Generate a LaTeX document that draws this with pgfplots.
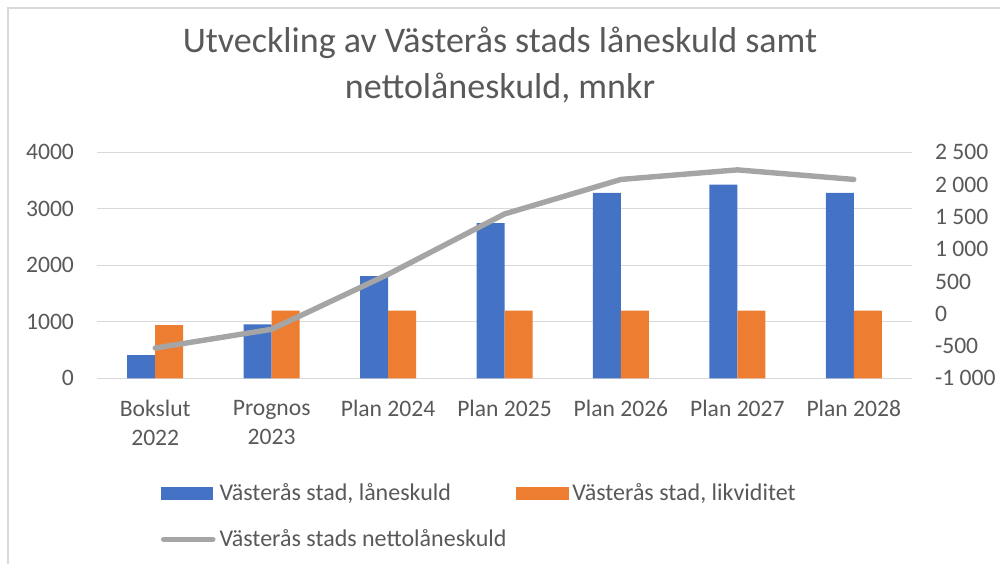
\documentclass[border=0pt]{standalone}
\usepackage{fontspec}
\setmainfont{Carlito}
\usepackage{pgfplots}
\pgfplotsset{compat=1.18}

\definecolor{blueC}{HTML}{4472C4}
\definecolor{orangeC}{HTML}{ED7D31}
\definecolor{grayC}{HTML}{A5A5A5}
\definecolor{txt}{HTML}{595959}
\definecolor{gridC}{HTML}{D9D9D9}

\pgfplotsset{
  barlegend/.style={legend image code/.code={\fill[##1, draw=none] (0pt,-3.3pt) rectangle (26pt,3.3pt);}},
  linelegend/.style={legend image code/.code={\draw[##1] (1.2pt,0pt) -- (25.8pt,0pt);}},
  base/.style={
    scale only axis, width=407.5pt, height=113pt,
    at={(48.5pt,92.85pt)}, anchor=south west,
    xmin=-0.5, xmax=6.5,
    axis line style={draw=none},
    major tick length=0pt,
    tick label style={font=\fontsize{11.8}{14.5}\selectfont, text=txt},
  },
}

\begin{document}
\begin{tikzpicture}
\useasboundingbox (0,0) rectangle (500pt,282pt);
\draw[gridC, line width=0.6pt] (4pt,0) -- (4pt,278pt) -- (500pt,278pt);

\node[anchor=base, text=txt, font=\fontsize{18}{20}\selectfont] at (250pt,256pt) {Utveckling av Västerås stads låneskuld samt};
\node[anchor=base, text=txt, font=\fontsize{18}{20}\selectfont] at (250pt,233pt) {nettolåneskuld, mnkr};

% bars, left axis
\begin{axis}[base,
  ymin=0, ymax=4000,
  ytick={0,1000,2000,3000,4000},
  yticklabels={0,1000,2000,3000,4000},
  yticklabel style={xshift=-8pt},
  ymajorgrids, grid style={gridC, line width=0.6pt},
  xtick={0,1,2,3,4,5,6},
  xticklabels={{Bokslut\\2022},{Prognos\\2023},Plan 2024,Plan 2025,Plan 2026,Plan 2027,Plan 2028},
  xticklabel style={align=center, yshift=-7.5pt},
  ybar=0pt, bar width=14pt,
]
\addplot[fill=blueC, draw=none] coordinates {
  (0,412) (1,956) (2,1810) (3,2745) (4,3280) (5,3428) (6,3280)};
\addplot[fill=orangeC, draw=none] coordinates {
  (0,943) (1,1197) (2,1200) (3,1200) (4,1200) (5,1200) (6,1200)};
\end{axis}

% net debt line, right axis
\begin{axis}[base,
  axis x line=none, axis y line*=right,
  ymin=-1000, ymax=2500,
  ytick={-1000,-500,0,500,1000,1500,2000,2500},
  yticklabels={-1 000,-500,0,500,1 000,1 500,2 000,2 500},
  yticklabel style={anchor=west, xshift=8pt},
  legend columns=2,
  legend cell align=left,
  legend style={at={(0.078,-0.445)}, anchor=north west, draw=none, fill=none,
    font=\fontsize{12}{13}\selectfont, text=txt,
    row sep=9pt, inner sep=0pt,
    /tikz/every even column/.append style={column sep=3pt}},
]
\addlegendimage{barlegend, fill=blueC}
\addlegendentry{Västerås stad, låneskuld}
\addlegendimage{barlegend, fill=orangeC}
\addlegendentry{Västerås stad, likviditet}
\addplot[grayC, line width=2.7pt, line cap=round, line join=round, linelegend] coordinates {
  (0,-531) (1,-241) (2,610) (3,1545) (4,2080) (5,2228) (6,2080)};
\addlegendentry{Västerås stads nettolåneskuld}
\end{axis}
\end{tikzpicture}
\end{document}
